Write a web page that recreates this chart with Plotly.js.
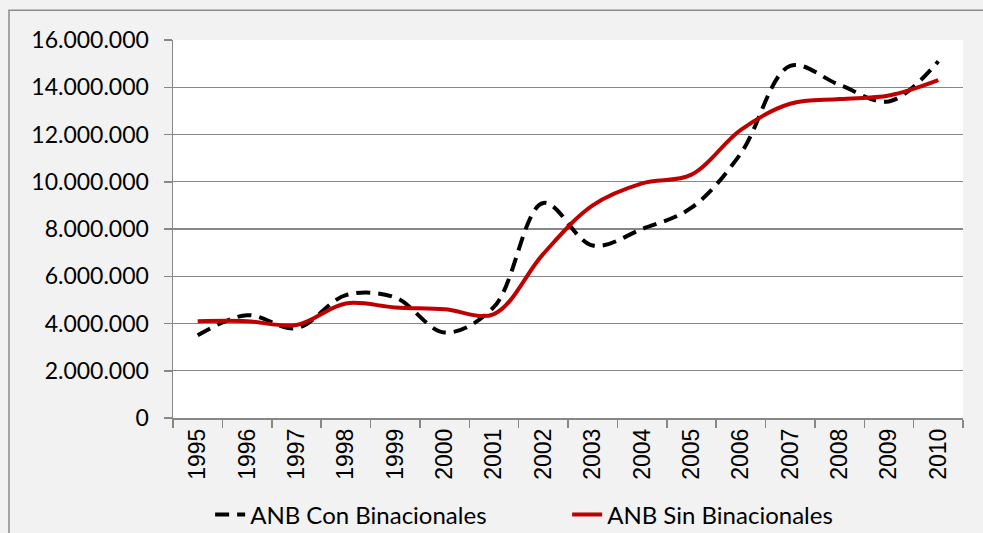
<!DOCTYPE html>
<html>
<head>
<meta charset="utf-8">
<script src="https://cdn.plot.ly/plotly-3.0.1.min.js"></script>
<style>
  html, body { margin: 0; padding: 0; background: #f2f2f2; }
  #chart { width: 983px; height: 533px; }
</style>
</head>
<body>
<div id="chart"></div>
<script>
// years on the x axis
var years = ["1995", "1996", "1997", "1998", "1999", "2000", "2001", "2002",
             "2003", "2004", "2005", "2006", "2007", "2008", "2009", "2010"];

// values
var conBinacionales = [3500000, 4350000, 3800000, 5200000, 5100000, 3620000, 4700000, 9100000,
                       7300000, 8000000, 8900000, 11200000, 14900000, 14100000, 13400000, 15100000];
var sinBinacionales = [4100000, 4100000, 3940000, 4850000, 4680000, 4600000, 4400000, 6950000,
                       9000000, 9930000, 10300000, 12200000, 13300000, 13500000, 13650000, 14300000];

var gridGray = "#878787";

var traceCon = {
  x: years,
  y: conBinacionales,
  name: "ANB Con Binacionales",
  type: "scatter",
  mode: "lines",
  line: { color: "#000000", width: 4, dash: "14px,8px", shape: "spline", smoothing: 1 }
};

var traceSin = {
  x: years,
  y: sinBinacionales,
  name: "ANB Sin Binacionales",
  type: "scatter",
  mode: "lines",
  line: { color: "#c00000", width: 4, shape: "spline", smoothing: 1 }
};

var layout = {
  width: 983,
  height: 533,
  margin: { l: 173, r: 20, t: 40, b: 115, autoexpand: false },
  paper_bgcolor: "#f2f2f2",
  plot_bgcolor: "#ffffff",
  separators: ",.",
  font: { family: "Lato, 'Open Sans', sans-serif", size: 22, color: "#000000" },
  showlegend: true,
  legend: {
    orientation: "h",
    xref: "paper",
    x: 0.047,
    xanchor: "left",
    yref: "container",
    y: 0.034,
    yanchor: "middle",
    bgcolor: "rgba(0,0,0,0)",
    entrywidth: 312,
    entrywidthmode: "pixels",
    font: { family: "Lato, sans-serif", size: 24, color: "#000000" }
  },
  xaxis: {
    type: "category",
    automargin: false,
    tickangle: -90,
    ticks: "outside",
    tickson: "boundaries",
    ticklen: 8,
    tickcolor: gridGray,
    tickwidth: 1.5,
    showline: true,
    linecolor: gridGray,
    linewidth: 1.5,
    showgrid: false,
    tickfont: { family: "'Liberation Sans', Arial, sans-serif", size: 23, color: "#000000" },
    range: [-0.5, 15.5],
    fixedrange: true
  },
  yaxis: {
    automargin: false,
    range: [0, 16000000],
    dtick: 2000000,
    tickformat: ",d",
    ticks: "outside",
    ticklen: 8,
    tickcolor: gridGray,
    tickwidth: 1.5,
    ticklabelstandoff: 10,
    showline: true,
    linecolor: gridGray,
    linewidth: 1.5,
    showgrid: true,
    gridcolor: gridGray,
    gridwidth: 1.3,
    zeroline: false,
    tickfont: { family: "Lato, sans-serif", size: 23, color: "#000000" },
    fixedrange: true
  },
  shapes: [
    // outer frame of the chart area
    {
      type: "rect", xref: "paper", yref: "paper",
      x0: -0.2076, x1: 1.05, y0: -0.35, y1: 1.079,
      line: { color: "#8c8c8c", width: 1.5 },
      fillcolor: "rgba(0,0,0,0)",
      layer: "below"
    }
  ]
};

Plotly.newPlot("chart", [traceCon, traceSin], layout, { displayModeBar: false, staticPlot: true });
</script>
</body>
</html>
